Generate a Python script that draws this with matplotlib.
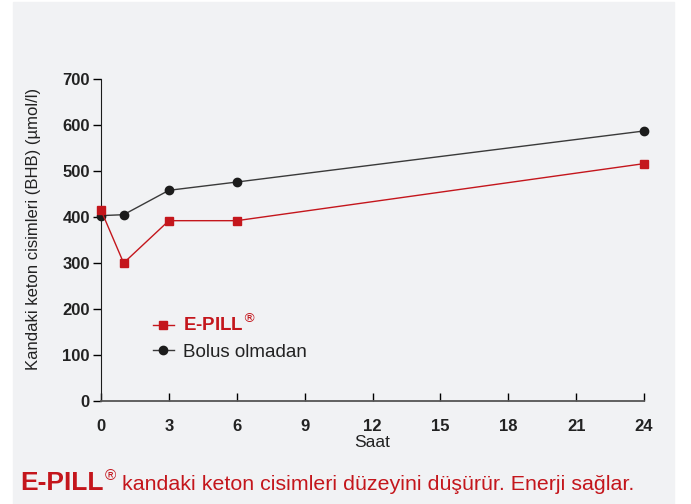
import matplotlib.pyplot as plt
from matplotlib.patches import Rectangle

plt.rcParams['font.family'] = ['Liberation Sans', 'DejaVu Sans']

# data
hours = [0, 1, 3, 6, 24]
epill = [415, 300, 392, 392, 516]
bolus = [403, 405, 458, 476, 587]
xticks = [0, 3, 6, 9, 12, 15, 18, 21, 24]
yticks = [0, 100, 200, 300, 400, 500, 600, 700]

RED = '#c4161c'
DARK = '#1c1c1c'
BG = '#f1f2f4'

fig = plt.figure(figsize=(6.91, 5.04), dpi=100)
fig.patches.append(Rectangle((13 / 691, 0), 661 / 691, 1 - 2 / 504,
                             transform=fig.transFigure, color=BG, zorder=-10))

ax = fig.add_axes([101 / 691, 103 / 504, 543 / 691, 322 / 504])
ax.set_facecolor('none')

l_bolus, = ax.plot(hours, bolus, color='#3a3a3a', lw=1, marker='o', ms=6,
                   mfc=DARK, mec=DARK, clip_on=False, zorder=3,
                   label='Bolus olmadan')
l_epill, = ax.plot(hours, epill, color=RED, lw=1, marker='s', ms=6,
                   clip_on=False, zorder=4, label='E-PILL$^{®}$')

ax.set_xlim(0, 24)
ax.set_ylim(0, 700)
ax.set_xticks(xticks)
ax.set_yticks(yticks)
ax.tick_params(axis='x', direction='in', length=6, width=1, pad=13,
               labelsize=12)
ax.tick_params(axis='y', direction='out', length=6, width=1, pad=2,
               labelsize=12)
for lab in ax.get_xticklabels() + ax.get_yticklabels():
    lab.set_fontweight('bold')
    lab.set_color('#222222')

for side in ['top', 'right']:
    ax.spines[side].set_visible(False)
ax.spines['left'].set_color(DARK)
ax.spines['bottom'].set_color('#555555')
ax.spines['bottom'].set_linewidth(1.3)

ax.set_xlabel('Saat', fontsize=12.5, labelpad=1, color='#222222')
ax.set_ylabel('Kandaki keton cisimleri (BHB) (µmol/l)', fontsize=12,
              color='#222222')
ax.yaxis.set_label_coords(-0.11, 0.534)

leg = ax.legend(handles=[l_epill, l_bolus], loc='upper left',
                bbox_to_anchor=(0.065, 0.325), frameon=False, fontsize=13.5,
                handlelength=1.1, handletextpad=0.5, labelspacing=0.45)
leg.get_texts()[0].set_color(RED)
leg.get_texts()[0].set_fontweight('bold')
leg.get_texts()[1].set_color('#222222')

# caption
t1 = fig.text(20 / 691, 14 / 504, 'E-PILL', color=RED, fontsize=19,
              fontweight='bold', va='baseline')
fig.add_artist(plt.Annotation('®', xy=(1, 0.5), xycoords=t1,
                              color=RED, fontsize=11, va='bottom',
                              xytext=(1, 0), textcoords='offset points'))
fig.add_artist(plt.Annotation('kandaki keton cisimleri düzeyini düşürür. Enerji sağlar.',
                              xy=(1, 0), xycoords=t1, color=RED,
                              fontsize=15.4, va='bottom',
                              xytext=(13, 0.5), textcoords='offset points'))

fig.savefig('out.png', dpi=100)
